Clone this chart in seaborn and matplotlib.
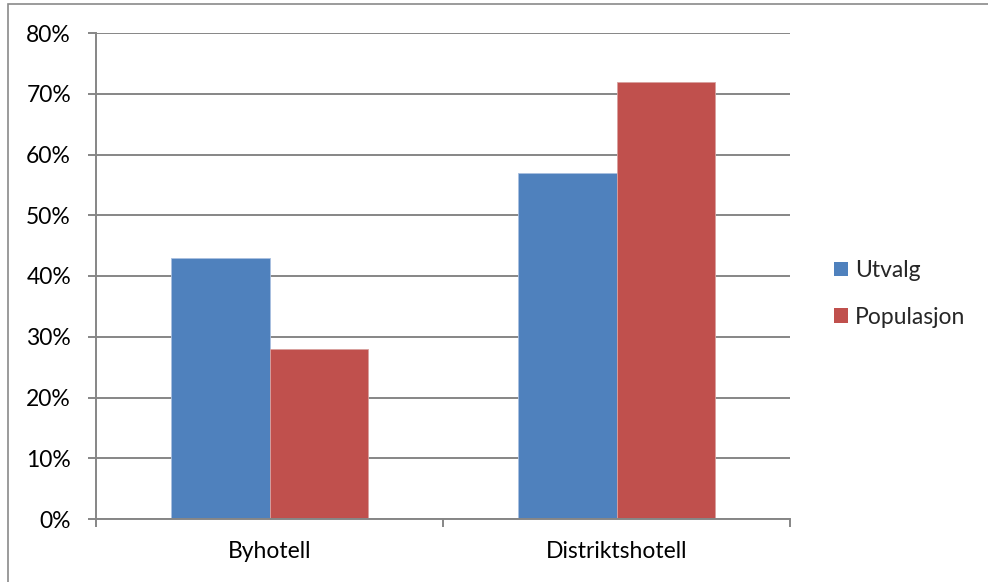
import matplotlib
matplotlib.use("Agg")
import matplotlib.pyplot as plt
from matplotlib.patches import Rectangle, Patch
from matplotlib.ticker import FixedLocator, PercentFormatter
import pandas as pd
import seaborn as sns

categories = ["Byhotell", "Distriktshotell"]
series = ["Utvalg", "Populasjon"]
utvalg = [43, 57]
populasjon = [28, 72]
y_ticks = [0, 10, 20, 30, 40, 50, 60, 70, 80]

colors = {"Utvalg": "#4F81BD", "Populasjon": "#C0504D"}
grid_color = "#868686"
FS = 16.5

sns.set_theme(style="white")
plt.rcParams["font.family"] = ["Lato", "DejaVu Sans"]

df = pd.DataFrame({
    "Kategori": categories * 2,
    "Serie": [series[0]] * len(categories) + [series[1]] * len(categories),
    "Andel": utvalg + populasjon,
})

W, H = 988, 582
fig = plt.figure(figsize=(W / 100, H / 100), dpi=100)
ax = fig.add_axes([96 / W, 1 - 519 / H, (790 - 96) / W, (519 - 33) / H])

sns.barplot(data=df, x="Kategori", y="Andel", hue="Serie", order=categories,
            hue_order=series, palette=colors, width=0.57, gap=0,
            linewidth=0.6, saturation=1, ax=ax,
            legend=False, errorbar=None)
for bar, s in zip(ax.patches, [series[0]] * 2 + [series[1]] * 2):
    bar.set_edgecolor("#d8a09e" if s == "Populasjon" else "#a9bfe0")

ax.set_xlim(-0.5, len(categories) - 0.5)
ax.set_ylim(0, 80)
ax.set_yticks(y_ticks)
ax.yaxis.set_major_formatter(PercentFormatter(decimals=0))
ax.yaxis.grid(True, color=grid_color, linewidth=1.4)
ax.set_axisbelow(True)

ax.xaxis.set_minor_locator(FixedLocator([-0.5, 0.5, 1.5]))
ax.tick_params(axis="x", which="major", length=0, pad=16, labelsize=FS, labelcolor="black")
ax.tick_params(axis="x", which="minor", length=6, width=1.4, color=grid_color, direction="out", bottom=True)
ax.tick_params(axis="y", length=6, width=1.4, color=grid_color, direction="out", left=True,
               pad=12, labelsize=FS, labelcolor="black")

for side in ["top", "right"]:
    ax.spines[side].set_visible(False)
for side in ["left", "bottom"]:
    ax.spines[side].set_color(grid_color)
    ax.spines[side].set_linewidth(1.4)

ax.set_xlabel("")
ax.set_ylabel("")

handles = [Patch(facecolor=colors[s], edgecolor="none") for s in series]
fig.legend(handles, series, loc="center left", bbox_to_anchor=(823 / W, 1 - 294 / H),
           frameon=False, fontsize=FS, handlelength=0.6, handleheight=0.6,
           handletextpad=0.3, labelspacing=1.12, borderpad=0)

# Chart-area border
fig.patches.append(Rectangle((8 / W, -0.1), 1.2, 1 - 3.5 / H + 0.1, transform=fig.transFigure,
                             fill=False, edgecolor="#8a8a8a", linewidth=1.2))

fig.savefig("out.png", dpi=100)
